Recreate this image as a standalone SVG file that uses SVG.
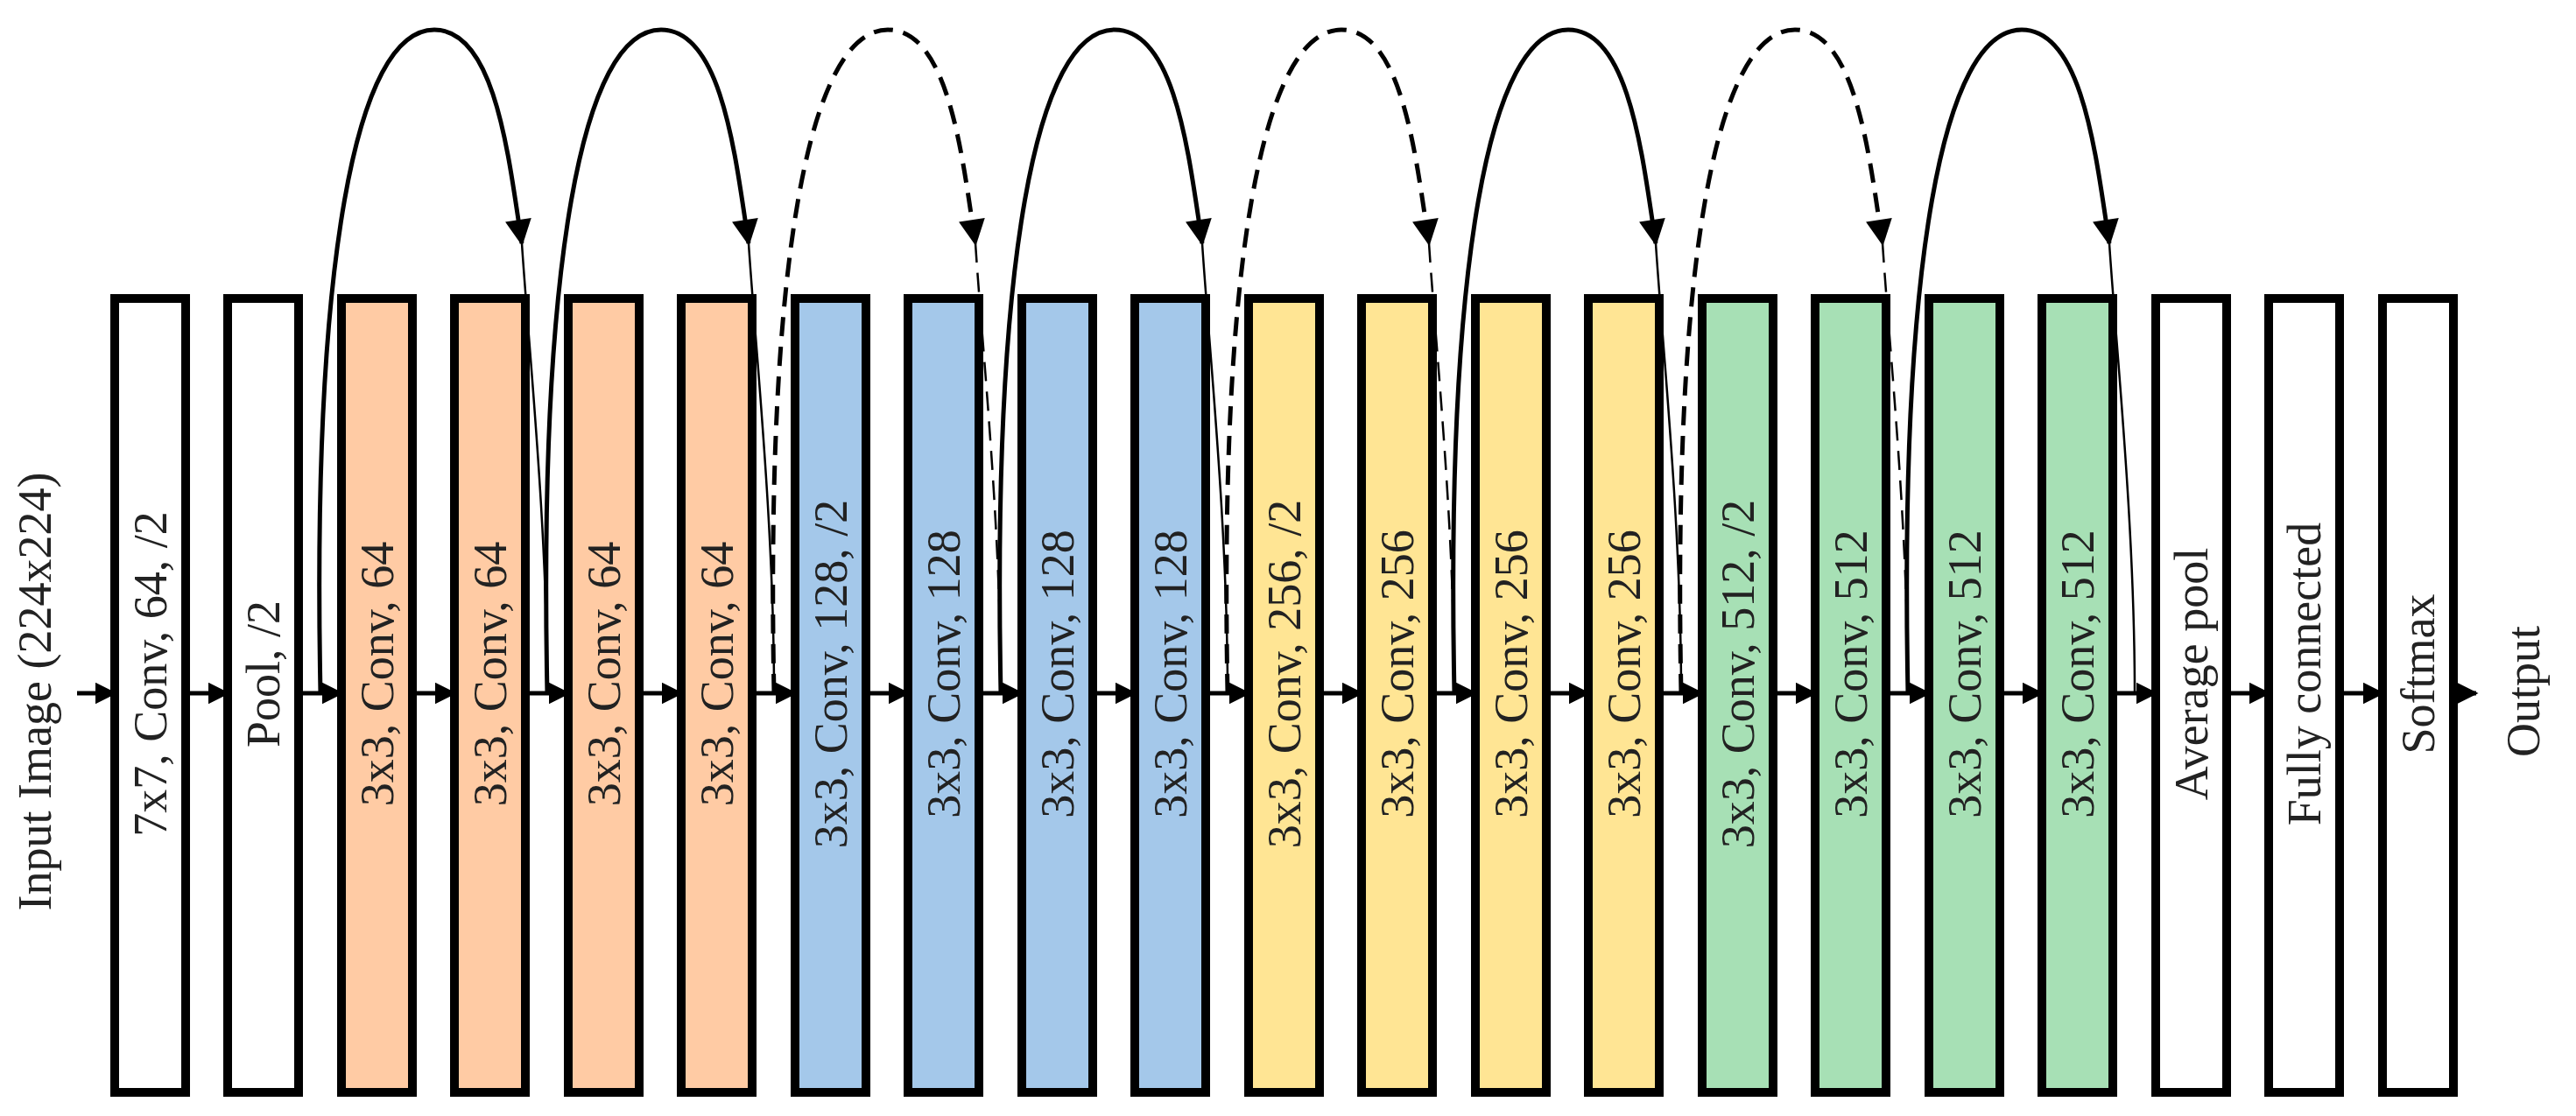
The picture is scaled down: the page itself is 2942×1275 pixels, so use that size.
<svg xmlns="http://www.w3.org/2000/svg" width="2942" height="1275" viewBox="0 0 2942 1275">
<defs>
<marker id="ah" viewBox="0 0 10 10" refX="9" refY="5" markerWidth="5" markerHeight="5" markerUnits="strokeWidth" orient="auto"><path d="M0,0 L10,5 L0,10 z" fill="#000"/></marker>
<marker id="ahb" viewBox="0 0 10 10" refX="9" refY="5" markerWidth="7" markerHeight="6" markerUnits="strokeWidth" orient="auto"><path d="M0,0 L10,5 L0,10 z" fill="#000"/></marker>
<style>
.b{stroke:#000;stroke-width:10}
.w{fill:#fff}.o{fill:#FFCBA4}.bl{fill:#A4C8EA}.y{fill:#FFE594}.g{fill:#A7E0B5}
.t{font-family:"Liberation Serif",serif;font-size:54px;text-anchor:middle;fill:#222}
.h{stroke:#000;stroke-width:5;fill:none;marker-end:url(#ah)}
.a{stroke:#000;stroke-width:5;fill:none;marker-end:url(#ahb)}
.d{stroke-dasharray:22 12}
.th{stroke:#000;stroke-width:2.5;fill:none}
</style>
</defs>
<text class="t" transform="translate(58,790) rotate(-90)" font-size="56">Input Image (224x224)</text>
<text class="t" transform="translate(2900,790) rotate(-90)" font-size="56">Output</text>
<g id="connectors">
<path class="h" d="M88 792H131"/>
<path class="h" d="M212 792H260"/>
<path class="h" d="M342 792H390"/>
<path class="h" d="M471 792H519"/>
<path class="h" d="M601 792H649"/>
<path class="h" d="M730 792H778"/>
<path class="h" d="M860 792H908"/>
<path class="h" d="M989 792H1037"/>
<path class="h" d="M1119 792H1167"/>
<path class="h" d="M1248 792H1296"/>
<path class="h" d="M1378 792H1426"/>
<path class="h" d="M1507 792H1555"/>
<path class="h" d="M1637 792H1685"/>
<path class="h" d="M1766 792H1814"/>
<path class="h" d="M1896 792H1944"/>
<path class="h" d="M2025 792H2073"/>
<path class="h" d="M2155 792H2203"/>
<path class="h" d="M2284 792H2332"/>
<path class="h" d="M2414 792H2462"/>
<path class="h" d="M2543 792H2591"/>
<path class="h" d="M2673 792H2721"/>
<path class="h" d="M2802 792H2828"/>
<g id="skips">
<path class="a" d="M366 792 C356 300 406 34 496 34 C566 34 581 180 596 278"/><path class="th" d="M596 278 C604 400 625 600 625 792"/>
<path class="a" d="M625 792 C615 300 665 34 755 34 C825 34 840 180 855 278"/><path class="th" d="M855 278 C863 400 884 600 884 792"/>
<path class="a d" d="M884 792 C874 300 924 34 1014 34 C1084 34 1099 180 1114 278"/><path class="th d" d="M1114 278 C1122 400 1143 600 1143 792"/>
<path class="a" d="M1143 792 C1133 300 1183 34 1273 34 C1343 34 1358 180 1373 278"/><path class="th" d="M1373 278 C1381 400 1402 600 1402 792"/>
<path class="a d" d="M1402 792 C1392 300 1442 34 1532 34 C1602 34 1617 180 1632 278"/><path class="th d" d="M1632 278 C1640 400 1661 600 1661 792"/>
<path class="a" d="M1661 792 C1651 300 1701 34 1791 34 C1861 34 1876 180 1891 278"/><path class="th" d="M1891 278 C1899 400 1920 600 1920 792"/>
<path class="a d" d="M1920 792 C1910 300 1960 34 2050 34 C2120 34 2135 180 2150 278"/><path class="th d" d="M2150 278 C2158 400 2179 600 2179 792"/>
<path class="a" d="M2179 792 C2169 300 2219 34 2309 34 C2379 34 2394 180 2409 278"/><path class="th" d="M2409 278 C2417 400 2438 600 2438 792"/>
</g>
</g>
<g id="n0"><rect class="b w" x="131" y="341" width="81" height="907"/><text class="t" transform="translate(190,770) rotate(-90)">7x7, Conv, 64, /2</text></g>
<g id="n1"><rect class="b w" x="260" y="341" width="81" height="907"/><text class="t" transform="translate(319,770) rotate(-90)">Pool, /2</text></g>
<g id="n2"><rect class="b o" x="390" y="341" width="81" height="907"/><text class="t" transform="translate(449,770) rotate(-90)">3x3, Conv, 64</text></g>
<g id="n3"><rect class="b o" x="519" y="341" width="81" height="907"/><text class="t" transform="translate(578,770) rotate(-90)">3x3, Conv, 64</text></g>
<g id="n4"><rect class="b o" x="649" y="341" width="81" height="907"/><text class="t" transform="translate(708,770) rotate(-90)">3x3, Conv, 64</text></g>
<g id="n5"><rect class="b o" x="778" y="341" width="81" height="907"/><text class="t" transform="translate(837,770) rotate(-90)">3x3, Conv, 64</text></g>
<g id="n6"><rect class="b bl" x="908" y="341" width="81" height="907"/><text class="t" transform="translate(967,770) rotate(-90)">3x3, Conv, 128, /2</text></g>
<g id="n7"><rect class="b bl" x="1037" y="341" width="81" height="907"/><text class="t" transform="translate(1096,770) rotate(-90)">3x3, Conv, 128</text></g>
<g id="n8"><rect class="b bl" x="1167" y="341" width="81" height="907"/><text class="t" transform="translate(1226,770) rotate(-90)">3x3, Conv, 128</text></g>
<g id="n9"><rect class="b bl" x="1296" y="341" width="81" height="907"/><text class="t" transform="translate(1355,770) rotate(-90)">3x3, Conv, 128</text></g>
<g id="n10"><rect class="b y" x="1426" y="341" width="81" height="907"/><text class="t" transform="translate(1485,770) rotate(-90)">3x3, Conv, 256, /2</text></g>
<g id="n11"><rect class="b y" x="1555" y="341" width="81" height="907"/><text class="t" transform="translate(1614,770) rotate(-90)">3x3, Conv, 256</text></g>
<g id="n12"><rect class="b y" x="1685" y="341" width="81" height="907"/><text class="t" transform="translate(1744,770) rotate(-90)">3x3, Conv, 256</text></g>
<g id="n13"><rect class="b y" x="1814" y="341" width="81" height="907"/><text class="t" transform="translate(1873,770) rotate(-90)">3x3, Conv, 256</text></g>
<g id="n14"><rect class="b g" x="1944" y="341" width="81" height="907"/><text class="t" transform="translate(2003,770) rotate(-90)">3x3, Conv, 512, /2</text></g>
<g id="n15"><rect class="b g" x="2073" y="341" width="81" height="907"/><text class="t" transform="translate(2132,770) rotate(-90)">3x3, Conv, 512</text></g>
<g id="n16"><rect class="b g" x="2203" y="341" width="81" height="907"/><text class="t" transform="translate(2262,770) rotate(-90)">3x3, Conv, 512</text></g>
<g id="n17"><rect class="b g" x="2332" y="341" width="81" height="907"/><text class="t" transform="translate(2391,770) rotate(-90)">3x3, Conv, 512</text></g>
<g id="n18"><rect class="b w" x="2462" y="341" width="81" height="907"/><text class="t" transform="translate(2521,770) rotate(-90)">Average pool</text></g>
<g id="n19"><rect class="b w" x="2591" y="341" width="81" height="907"/><text class="t" transform="translate(2650,770) rotate(-90)">Fully connected</text></g>
<g id="n20"><rect class="b w" x="2721" y="341" width="81" height="907"/><text class="t" transform="translate(2780,770) rotate(-90)">Softmax</text></g>
</svg>
